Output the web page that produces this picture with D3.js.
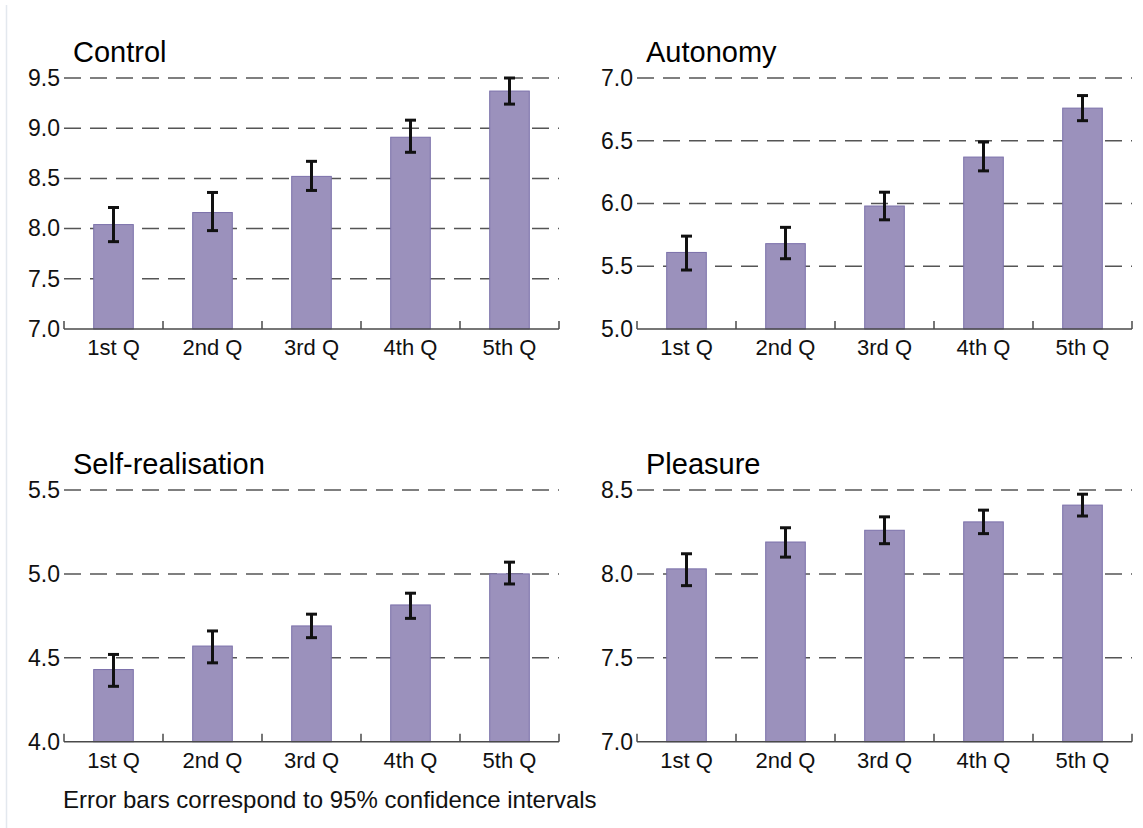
<!DOCTYPE html>
<html>
<head>
<meta charset="utf-8">
<script src="https://cdn.jsdelivr.net/npm/d3@7"></script>
<style>
  html, body { margin: 0; padding: 0; background: #fff; }
  svg { display: block; font-family: "Liberation Sans", Arial, sans-serif; }
</style>
</head>
<body>
<svg id="chart" width="1143" height="828"></svg>
<script>
// Income quintiles on the x axis
const categories = ["1st Q", "2nd Q", "3rd Q", "4th Q", "5th Q"];

// Control
const controlMean = [8.04, 8.16, 8.52, 8.91, 9.37];
const controlLow  = [7.87, 7.98, 8.38, 8.76, 9.24];
const controlHigh = [8.21, 8.36, 8.67, 9.08, 9.50];
const controlTicks = [7.0, 7.5, 8.0, 8.5, 9.0, 9.5];

// Autonomy
const autonomyMean = [5.61, 5.68, 5.98, 6.37, 6.76];
const autonomyLow  = [5.47, 5.56, 5.87, 6.26, 6.66];
const autonomyHigh = [5.74, 5.81, 6.09, 6.49, 6.86];
const autonomyTicks = [5.0, 5.5, 6.0, 6.5, 7.0];

// Self-realisation
const selfMean = [4.43, 4.57, 4.69, 4.815, 5.00];
const selfLow  = [4.33, 4.47, 4.62, 4.735, 4.94];
const selfHigh = [4.52, 4.66, 4.76, 4.885, 5.07];
const selfTicks = [4.0, 4.5, 5.0, 5.5];

// Pleasure
const pleasureMean = [8.03, 8.19, 8.26, 8.31, 8.41];
const pleasureLow  = [7.93, 8.10, 8.18, 8.24, 8.345];
const pleasureHigh = [8.12, 8.275, 8.34, 8.38, 8.475];
const pleasureTicks = [7.0, 7.5, 8.0, 8.5];

const footnote = "Error bars correspond to 95% confidence intervals";

const panels = [
  { title: "Control", mean: controlMean, low: controlLow, high: controlHigh, ticks: controlTicks,
    x0: 64, x1: 559, yTop: 78, yBase: 329 },
  { title: "Autonomy", mean: autonomyMean, low: autonomyLow, high: autonomyHigh, ticks: autonomyTicks,
    x0: 637, x1: 1132, yTop: 78, yBase: 329 },
  { title: "Self-realisation", mean: selfMean, low: selfLow, high: selfHigh, ticks: selfTicks,
    x0: 64, x1: 559, yTop: 490, yBase: 741.7 },
  { title: "Pleasure", mean: pleasureMean, low: pleasureLow, high: pleasureHigh, ticks: pleasureTicks,
    x0: 637, x1: 1132, yTop: 490, yBase: 741.7 }
];

const svg = d3.select("#chart");

// faint page border on the left
svg.append("line")
  .attr("x1", 6.5).attr("x2", 6.5).attr("y1", 5).attr("y2", 828)
  .attr("stroke", "#e3e8ee").attr("stroke-width", 1.5);

const barFill = "#9b91bc";
const barStroke = "#7b70aa";
const axisColor = "#4a4a4a";
const labelSize = 22;

panels.forEach(p => {
  const g = svg.append("g");
  const ext = d3.extent(p.ticks);

  const x = d3.scaleBand().domain(categories).range([p.x0, p.x1]).paddingInner(0).paddingOuter(0);
  const y = d3.scaleLinear().domain(ext).range([p.yBase, p.yTop]);
  const bw = x.bandwidth();

  // dashed gridlines (every tick except the baseline)
  g.selectAll("line.grid")
    .data(p.ticks.filter(t => t !== ext[0]))
    .join("line")
    .attr("class", "grid")
    .attr("x1", p.x0).attr("x2", p.x1)
    .attr("y1", d => y(d)).attr("y2", d => y(d))
    .attr("stroke", "#555")
    .attr("stroke-width", 1.5)
    .attr("stroke-dasharray", "17,9");

  // y tick labels
  const yAxis = g.append("g")
    .attr("transform", `translate(${p.x0},0)`)
    .call(d3.axisLeft(y).tickValues(p.ticks).tickFormat(d3.format(".1f")).tickSize(0).tickPadding(4));
  yAxis.select(".domain").remove();
  yAxis.selectAll("text")
    .attr("font-size", 23)
    .attr("font-family", "'Liberation Sans', Arial, sans-serif")
    .attr("fill", "#111");

  // bars
  g.selectAll("rect.bar")
    .data(categories)
    .join("rect")
    .attr("class", "bar")
    .attr("x", d => x(d) + bw * 0.3)
    .attr("width", bw * 0.4)
    .attr("y", (d, i) => y(p.mean[i]))
    .attr("height", (d, i) => y(ext[0]) - y(p.mean[i]))
    .attr("fill", barFill)
    .attr("stroke", barStroke)
    .attr("stroke-width", 1);

  // error bars
  const cap = 5.5;
  const eb = g.selectAll("g.err").data(categories).join("g").attr("class", "err");
  eb.append("line")
    .attr("x1", d => x(d) + bw / 2).attr("x2", d => x(d) + bw / 2)
    .attr("y1", (d, i) => y(p.low[i])).attr("y2", (d, i) => y(p.high[i]))
    .attr("stroke", "#111").attr("stroke-width", 3);
  eb.append("line")
    .attr("x1", d => x(d) + bw / 2 - cap).attr("x2", d => x(d) + bw / 2 + cap)
    .attr("y1", (d, i) => y(p.high[i])).attr("y2", (d, i) => y(p.high[i]))
    .attr("stroke", "#111").attr("stroke-width", 3);
  eb.append("line")
    .attr("x1", d => x(d) + bw / 2 - cap).attr("x2", d => x(d) + bw / 2 + cap)
    .attr("y1", (d, i) => y(p.low[i])).attr("y2", (d, i) => y(p.low[i]))
    .attr("stroke", "#111").attr("stroke-width", 3);

  // baseline with upward ticks at band boundaries
  g.append("line")
    .attr("x1", p.x0).attr("x2", p.x1)
    .attr("y1", y(ext[0])).attr("y2", y(ext[0]))
    .attr("stroke", axisColor).attr("stroke-width", 1.5);
  const bounds = categories.map(c => x(c)).concat([p.x1]);
  g.selectAll("line.xtick")
    .data(bounds)
    .join("line")
    .attr("class", "xtick")
    .attr("x1", d => d).attr("x2", d => d)
    .attr("y1", y(ext[0])).attr("y2", y(ext[0]) - 8)
    .attr("stroke", axisColor).attr("stroke-width", 1.5);

  // category labels
  g.selectAll("text.cat")
    .data(categories)
    .join("text")
    .attr("class", "cat")
    .attr("x", d => x(d) + bw / 2)
    .attr("y", y(ext[0]) + 26)
    .attr("text-anchor", "middle")
    .attr("font-size", labelSize)
    .attr("fill", "#111")
    .text(d => d);

  // panel title
  g.append("text")
    .attr("x", p.x0 + 9).attr("y", p.yTop - 16)
    .attr("font-size", 29)
    .attr("fill", "#000")
    .text(p.title);
});

svg.append("text")
  .attr("x", 63).attr("y", 808)
  .attr("font-size", 24)
  .attr("fill", "#111")
  .text(footnote);
</script>
</body>
</html>
